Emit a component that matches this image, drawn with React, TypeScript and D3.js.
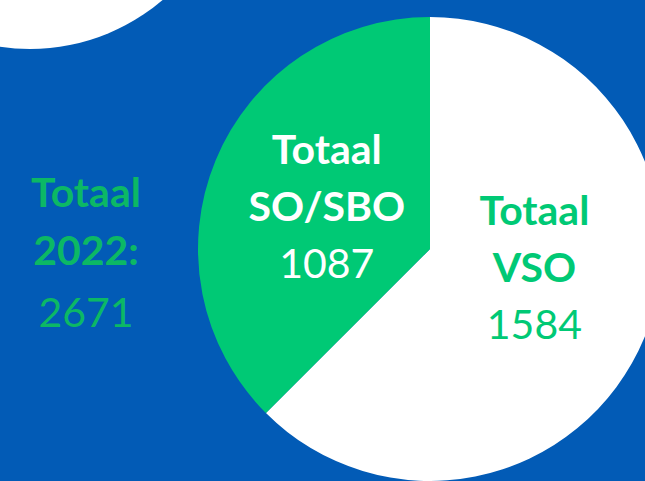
import React, { useRef, useEffect } from 'react';
import * as d3 from 'd3';

// slices in drawing order (clockwise from 12 o'clock)
const categories = ['VSO', 'SO/SBO'];
const counts = [1584, 1087];
// share of the circle each slice takes in the picture
const shares = [62.5, 37.5];
const sliceColors = ['#ffffff', '#00c975'];
const labelColors = ['#00c975', '#ffffff'];
const totalYear = '2022';
const total = 2671;

const W = 645, H = 481;
const BLUE = '#025bb6';
const FONT = 'Lato, "Open Sans", sans-serif';

export default function App() {
  const ref = useRef<SVGSVGElement>(null);

  useEffect(() => {
    const svg = d3.select(ref.current);
    svg.selectAll('*').remove();
    svg.attr('viewBox', `0 0 ${W} ${H}`);

    svg.append('rect').attr('width', W).attr('height', H).attr('fill', BLUE);

    // decorative white circle top-left
    svg.append('circle')
      .attr('cx', 30).attr('cy', -155).attr('r', 204)
      .attr('fill', '#fff');

    const cx = 430, cy = 249, r = 232;
    const pie = d3.pie<number>().sort(null).value(d => d);
    const arcs = pie(shares);
    const arc = d3.arc<d3.PieArcDatum<number>>().innerRadius(0).outerRadius(r);

    const g = svg.append('g').attr('transform', `translate(${cx},${cy})`);
    g.selectAll('path')
      .data(arcs)
      .join('path')
      .attr('d', arc)
      .attr('fill', (d, i) => sliceColors[i]);

    // label anchors (centre of middle line), relative to radius
    const labelAt = [[0.45, 0.08], [-0.445, -0.18]];
    const lh = 57;
    arcs.forEach((a, i) => {
      const [fx, fy] = labelAt[i];
      const t = g.append('text')
        .attr('text-anchor', 'middle')
        .attr('font-family', FONT)
        .attr('font-size', 41)
        .attr('fill', labelColors[i]);
      const x = fx * r, y = fy * r + 14;
      t.append('tspan').attr('x', x).attr('y', y - lh).attr('font-weight', 700).text('Totaal');
      t.append('tspan').attr('x', x).attr('y', y).attr('font-weight', 700).text(categories[i]);
      t.append('tspan').attr('x', x).attr('y', y + lh).attr('font-weight', 400).text(counts[i]);
    });

    // overall total on the left
    const tt = svg.append('text')
      .attr('text-anchor', 'middle')
      .attr('font-family', FONT)
      .attr('font-size', 41)
      .attr('fill', '#0cb865');
    tt.append('tspan').attr('x', 86).attr('y', 207).attr('font-weight', 700).text('Totaal');
    tt.append('tspan').attr('x', 86).attr('y', 265).attr('font-weight', 700).text(`${totalYear}:`);
    tt.append('tspan').attr('x', 86).attr('y', 327).attr('font-weight', 400).text(total);
  }, []);

  return (
    <svg
      ref={ref}
      width={W}
      height={H}
      style={{ position: 'absolute', left: 0, top: 0, display: 'block' }}
      role="img"
      aria-label="Pie chart"
    />
  );
}
